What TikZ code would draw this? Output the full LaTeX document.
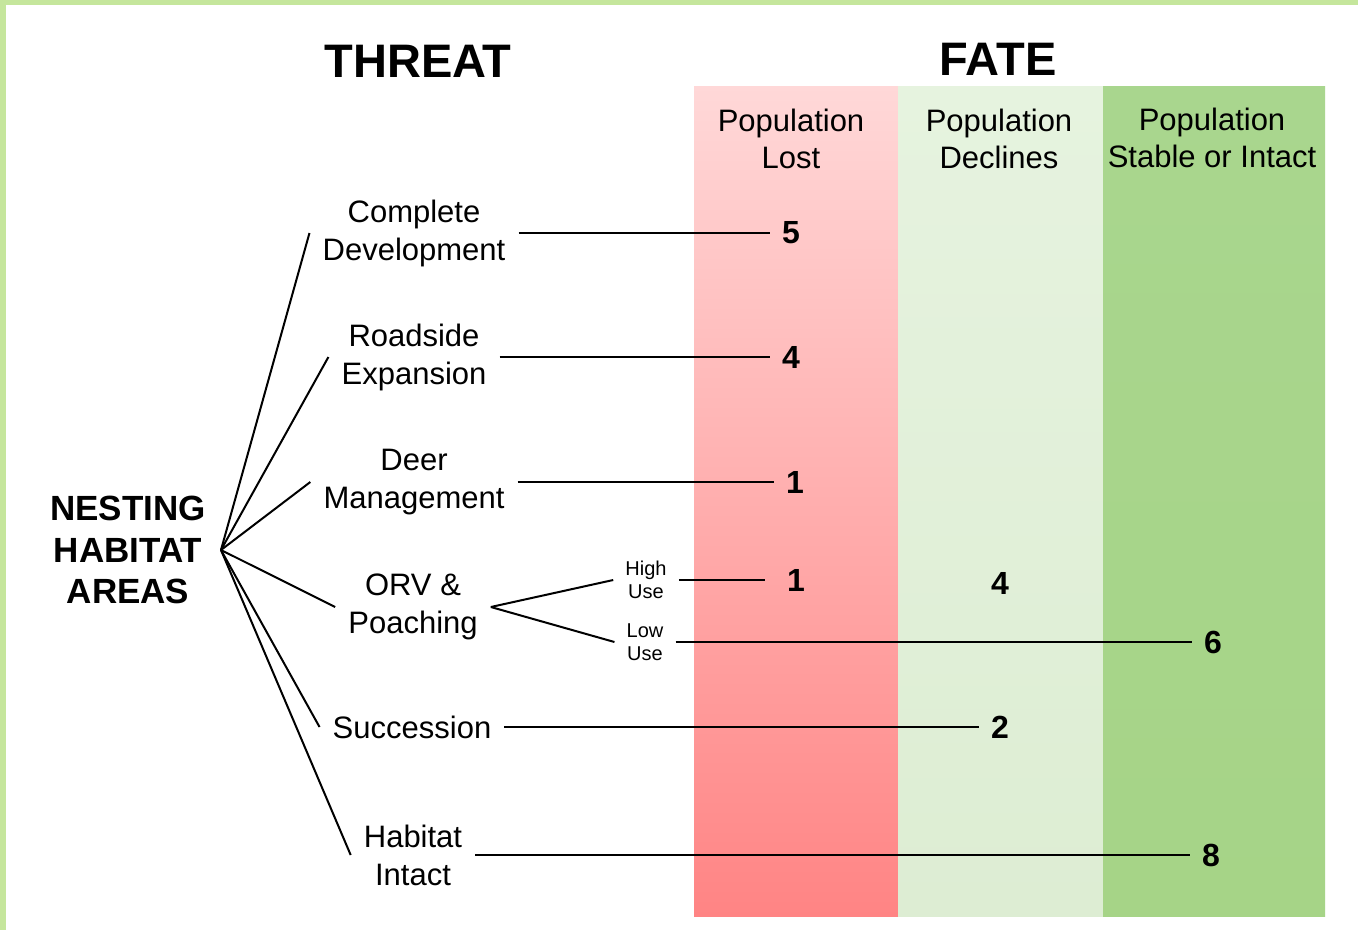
\documentclass[tikz,border=0pt]{standalone}
\usepackage{fontspec}
\setmainfont{Liberation Sans}
\definecolor{frame}{HTML}{C5E69C}
\definecolor{redtop}{HTML}{FFD8D8}
\definecolor{redbot}{HTML}{FF8484}
\definecolor{midtop}{HTML}{E6F3DF}
\definecolor{midbot}{HTML}{DDEDD3}
\definecolor{rgttop}{HTML}{A9D68E}
\definecolor{rgtbot}{HTML}{A6D487}
\tikzset{
  lbl/.style={font=\fontsize{31}{38}\selectfont, align=center, inner sep=13pt},
  head/.style={font=\fontsize{31}{37}\selectfont, align=center, inner sep=0pt},
  numlbl/.style={font=\fontsize{32}{36}\selectfont\bfseries, inner sep=12pt},
  smalllbl/.style={font=\fontsize{20}{23.5}\selectfont, align=center, inner sep=12pt},
  titlelbl/.style={font=\fontsize{47}{50}\selectfont\bfseries, inner sep=0pt},
  rootlbl/.style={font=\fontsize{35}{41.5}\selectfont\bfseries, align=center, inner sep=15pt},
  conn/.style={line width=2pt, black},
}
\begin{document}
\begin{tikzpicture}[x=1pt,y=-1pt]
\useasboundingbox (0,0) rectangle (1358,930);
\fill[white] (0,0) rectangle (1358,930);
% frame
\fill[frame] (0,0) rectangle (1358,5);
\fill[frame] (0,0) rectangle (6,930);
% columns
\shade[top color=redtop, bottom color=redbot] (694,86) rectangle (898,916);
\shade[top color=midtop, bottom color=midbot] (898,86) rectangle (1103,916);
\shade[top color=rgttop, bottom color=rgtbot] (1103,86) rectangle (1325,916);
% titles
\node[titlelbl] (threat) at (418,61) {THREAT};
\node[titlelbl] (fate) at (998,59) {FATE};
\node[head] (hlost) at (791,139) {Population\\Lost};
\node[head] (hdecl) at (999,139) {Population\\Declines};
\node[head] (hstab) at (1212,138) {Population\\Stable or Intact};
% root
\node[rootlbl] (nest) at (128,550) {NESTING\\HABITAT\\AREAS};
% threats
\node[lbl] (cd) at (414,233) {Complete\\Development};
\node[lbl] (rs) at (414,357) {Roadside\\Expansion};
\node[lbl] (dm) at (414,482) {Deer\\Management};
\node[lbl] (orv) at (413,607) {ORV \&\\Poaching};
\node[lbl] (suc) at (412,727) {Succession};
\node[lbl] (hab) at (413,855) {Habitat\\Intact};
\node[smalllbl] (hu) at (646,580) {High\\Use};
\node[smalllbl] (lu) at (645,642) {Low\\Use};
% numbers
\node[numlbl] (n5) at (791,233) {5};
\node[numlbl] (n4) at (791,357) {4};
\node[numlbl] (n1) at (795,482) {1};
\node[numlbl] (n1b) at (796,580) {1};
\node[numlbl] (n4b) at (1000,583) {4};
\node[numlbl] (n6) at (1213,642) {6};
\node[numlbl] (n2) at (1000,727) {2};
\node[numlbl] (n8) at (1211,855) {8};
% branches
\foreach \t in {cd,rs,dm,orv,suc,hab}
  \draw[conn] (nest.east) -- (\t.west);
\draw[conn] (orv.east) -- (hu.west);
\draw[conn] (orv.east) -- (lu.west);
% outcome lines
\draw[conn] (cd.east) -- (n5.west);
\draw[conn] (rs.east) -- (n4.west);
\draw[conn] (dm.east) -- (n1.west);
\draw[conn, shorten >=10pt] (hu.east) -- (n1b.west);
\draw[conn] (lu.east) -- (n6.west);
\draw[conn] (suc.east) -- (n2.west);
\draw[conn] (hab.east) -- (n8.west);
\end{tikzpicture}
\end{document}
